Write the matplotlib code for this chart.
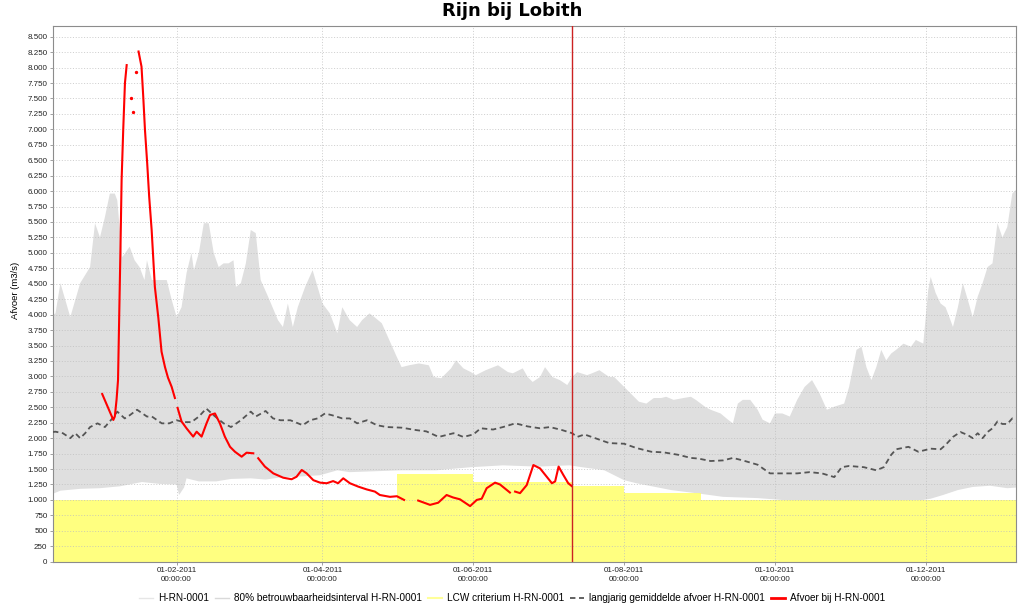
import matplotlib
matplotlib.use("Agg")
import matplotlib.pyplot as plt
import matplotlib.dates as mdates
from matplotlib.ticker import FuncFormatter, MultipleLocator
from matplotlib.lines import Line2D
import numpy as np
import pandas as pd

plt.rcParams['font.family'] = ['Liberation Sans', 'DejaVu Sans']

# ---------------- data (days counted from 1 Jan 2011) ----------------
x_start_day = -19
x_end_day = 370.5
forecast_day = 191  # 11-07-2011

band_upper_days = [-19, -18, -16, -12, -8, -4, -2, 0, 2, 4, 6, 7, 9, 12, 14, 16, 18, 19, 21, 24, 27, 29,
                   31, 33, 35, 37, 38, 40, 42, 44, 46, 48, 50, 52, 54, 55, 57, 59, 61, 63, 65, 68, 72, 74,
                   76, 78, 80, 83, 86, 88, 90, 93, 96, 98, 101, 104, 106, 109, 111, 114, 117, 120, 122, 125,
                   129, 133, 135, 138, 142, 144, 147, 150, 152, 156, 161, 165, 167, 171, 173, 175, 178, 180,
                   183, 186, 189, 191, 193, 197, 199, 202, 206, 208, 212, 216, 218, 221, 224, 227, 229, 232,
                   236, 239, 241, 245, 247, 251, 254, 256, 258, 260, 263, 266, 268, 271, 273, 276, 279, 282,
                   285, 288, 291, 294, 297, 301, 303, 306, 308, 310, 312, 314, 316, 318, 320, 322, 325, 328,
                   330, 333, 335, 336, 338, 340, 342, 344, 345, 347, 349, 351, 353, 355, 357, 359, 361, 363,
                   365, 367, 369, 370.5]
band_upper_values = [4000, 4020, 4510, 3960, 4510, 4770, 5480, 5250, 5580, 5960, 5960, 5850, 4930, 5100, 4880,
                     4770, 4560, 4880, 4560, 4560, 4560, 4240, 3960, 4120, 4670, 5000, 4720, 5000, 5480, 5480,
                     5000, 4770, 4830, 4830, 4880, 4450, 4510, 4830, 5370, 5320, 4560, 4290, 3910, 3800, 4180,
                     3800, 4120, 4450, 4720, 4450, 4180, 4020, 3700, 4120, 3910, 3800, 3910, 4020, 3960, 3860,
                     3590, 3320, 3150, 3180, 3210, 3180, 2990, 2970, 3130, 3260, 3130, 3070, 3020, 3100, 3180,
                     3070, 3050, 3130, 2990, 2910, 2990, 3150, 2990, 2940, 2860, 2990, 3070, 3020, 3050, 3100,
                     2990, 2990, 2830, 2670, 2590, 2560, 2650, 2650, 2670, 2620, 2650, 2670, 2620, 2500, 2460,
                     2400, 2300, 2240, 2560, 2620, 2620, 2460, 2300, 2240, 2400, 2400, 2350, 2620, 2830, 2940,
                     2730, 2460, 2510, 2560, 2830, 3430, 3480, 3150, 2940, 3150, 3430, 3260, 3370, 3430, 3530,
                     3480, 3590, 3530, 4400, 4610, 4350, 4180, 4120, 3910, 3800, 4120, 4510, 4240, 3960, 4290,
                     4510, 4770, 4830, 5480, 5250, 5420, 5960, 6020]

band_lower_days = [-19, -16, -8, 0, 8, 17, 24, 31, 32, 34, 35, 40, 47, 53, 61, 67, 74, 81, 89, 96, 101, 108,
                   115, 122, 136, 150, 163, 177, 190, 195, 204, 212, 217, 231, 241, 252, 266, 279, 303, 324,
                   333, 336, 341, 347, 353, 360, 367, 370.5]
band_lower_values = [1100, 1150, 1180, 1190, 1220, 1290, 1260, 1250, 1080, 1200, 1350, 1300, 1300, 1340, 1350,
                     1330, 1370, 1380, 1400, 1480, 1450, 1460, 1470, 1480, 1480, 1530, 1560, 1540, 1560, 1530,
                     1480, 1320, 1270, 1160, 1110, 1050, 1030, 990, 980, 990, 1000, 1020, 1080, 1160, 1210,
                     1230, 1190, 1200]

lcw_days = [-19, 120, 151, 191, 212, 243, 370.5]
lcw_values = [1000, 1415, 1295, 1230, 1115, 1000, 1000]

mean_days = [-19, -18, -15, -12, -10, -8, -6, -4, -1, 2, 5, 7, 10, 12, 15, 19, 21, 25, 28, 31, 34, 37, 40,
             43, 46, 50, 53, 57, 61, 63, 67, 70, 73, 77, 82, 85, 88, 91, 94, 98, 101, 104, 108, 112, 116,
             122, 128, 132, 137, 143, 147, 151, 154, 159, 163, 168, 173, 178, 182, 187, 191, 193, 196, 201,
             206, 212, 217, 223, 228, 234, 239, 242, 247, 252, 256, 260, 266, 271, 276, 282, 287, 292, 297,
             300, 303, 309, 314, 317, 320, 322, 327, 331, 336, 340, 342, 345, 348, 351, 353, 355, 357, 359,
             361, 363, 365, 367, 369, 370.5]
mean_values = [2100, 2105, 2080, 2000, 2080, 2000, 2080, 2180, 2240, 2180, 2320, 2430, 2320, 2370, 2460, 2350,
               2350, 2240, 2240, 2290, 2260, 2260, 2350, 2480, 2370, 2240, 2180, 2290, 2430, 2350, 2440, 2320,
               2290, 2290, 2210, 2290, 2320, 2400, 2370, 2320, 2320, 2240, 2290, 2210, 2180, 2170, 2130, 2110,
               2020, 2080, 2020, 2060, 2160, 2140, 2180, 2240, 2190, 2160, 2180, 2130, 2080, 2020, 2060, 1990,
               1920, 1910, 1840, 1780, 1770, 1730, 1680, 1670, 1630, 1640, 1680, 1640, 1570, 1430, 1430, 1430,
               1450, 1430, 1370, 1530, 1550, 1530, 1480, 1530, 1730, 1820, 1860, 1780, 1830, 1820, 1890, 2020,
               2100, 2050, 2000, 2080, 2000, 2100, 2160, 2270, 2230, 2230, 2320, 2300]

nan = float('nan')
afvoer_days = [0.9, 3.2, 5.4, 6.0, 6.7, 7.3, 7.8, 8.3, 8.75, 9.4, 10.1, 10.8, 11.0,
               15.5, 15.6, 16.8, 17.5, 18.2, 19.1, 19.9, 20.9, 22.2, 23.6, 24.9, 26.3, 27.5, 29.0, 30.3, 30.8,
               31.4, 33.0, 35.0, 37.7, 39.1, 41.1, 43.1, 44.5, 46.5, 48.5, 50.5, 52.6, 54.6, 57.3, 59.3, 62.0,
               63.0, 64.0, 66.7, 70.1, 74.1, 77.5, 79.5, 81.6, 83.6, 86.3, 89.0, 91.7, 94.3, 96.3, 98.4, 101.1,
               104.5, 107.9, 111.2, 113.2, 117.3, 120.1, 123.0, 125.0,
               128.7, 133.5, 136.8, 140.2, 142.8, 145.6, 149.7, 152.4, 154.4, 156.4, 159.8, 161.8, 165.8, 166.8,
               167.9, 169.9, 172.6, 175.3, 178.0, 180.7, 182.8, 184.1, 185.5, 187.4, 189.4, 190.8]
afvoer_values = [2715, 2500, 2295, 2350, 2620, 2940, 4020, 5100, 6180, 6990, 7750, 8040, nan,
                 nan, 8260, 8015, 7530, 6990, 6450, 5910, 5370, 4450, 3950, 3400, 3150, 2980, 2830, 2650, nan,
                 2490, 2270, 2160, 2025, 2105, 2025, 2240, 2375, 2400, 2240, 2025, 1860, 1780, 1700, 1765, 1755,
                 nan, 1675, 1540, 1430, 1360, 1335, 1375, 1485, 1430, 1320, 1280, 1270, 1305, 1270, 1350, 1270,
                 1215, 1170, 1135, 1080, 1050, 1060, 1000, nan,
                 990, 920, 955, 1080, 1040, 1010, 900, 1000, 1020, 1190, 1280, 1250, 1120, nan,
                 1135, 1110, 1240, 1565, 1510, 1375, 1270, 1300, 1540, 1405, 1270, 1225]

afvoer_los_days = [12.4, 13.2, 14.7]
afvoer_los_values = [7510, 7285, 7930]

legend_labels = ['H-RN-0001', '80% betrouwbaarheidsinterval H-RN-0001', 'LCW criterium H-RN-0001',
                 'langjarig gemiddelde afvoer H-RN-0001', 'Afvoer bij H-RN-0001']

# ---------------- helpers ----------------
BASE = pd.Timestamp('2011-01-01')


def to_num(days):
    return mdates.date2num(BASE + pd.to_timedelta(np.asarray(days, dtype=float), unit='D'))


fig = plt.figure(figsize=(10.24, 6.12), dpi=100)
ax = fig.add_axes([53 / 1024, 1 - 561.7 / 612, (1016 - 53) / 1024, (561.7 - 26) / 612])

GRAY = '#dfdfdf'
YELLOW = (1.0, 1.0, 106 / 255)

# confidence band polygon
bx = np.concatenate([to_num(band_upper_days), to_num(band_lower_days)[::-1]])
by = np.concatenate([np.asarray(band_upper_values, float), np.asarray(band_lower_values, float)[::-1]])
ax.fill(bx, by, color=GRAY, lw=0, zorder=1)

# LCW criterium
ax.fill_between(to_num(lcw_days), 0, lcw_values, step='post', color=YELLOW, alpha=0.85, lw=0, zorder=1.5)

# mean
ax.plot(to_num(mean_days), mean_values, color='#555555', lw=1.3, ls=(0, (3, 2)), zorder=3)

# afvoer
ax.plot(to_num(afvoer_days), afvoer_values, color='#ff0000', lw=1.5, zorder=4)
ax.plot(to_num(afvoer_los_days), afvoer_los_values, color='#ff0000', lw=0, marker='o', ms=1.4, zorder=4)

# forecast time
ax.axvline(to_num([forecast_day])[0], color='#cc2222', lw=1.0, zorder=5)

ax.set_xlim(to_num([x_start_day])[0], to_num([x_end_day])[0])
ax.set_ylim(0, 8673)

ax.yaxis.set_major_locator(MultipleLocator(250))
ax.yaxis.set_major_formatter(FuncFormatter(lambda v, p: f"{int(round(v)):,}".replace(',', '.')))
ax.xaxis.set_major_locator(mdates.MonthLocator(bymonth=[2, 4, 6, 8, 10, 12]))
ax.xaxis.set_major_formatter(mdates.DateFormatter('%d-%m-%Y\n%H:%M:%S'))

ax.set_axisbelow(False)
ax.grid(True, color='#bdbdbd', lw=0.5, ls=(0, (1.5, 2.5)), zorder=2.5)
ax.tick_params(axis='both', labelsize=5.8, length=2, width=0.6, color='#909090', pad=2, labelcolor='#222222')
for s in ax.spines.values():
    s.set_color('#8c8c8c')
    s.set_linewidth(0.8)
for lab in ax.get_xticklabels():
    lab.set_horizontalalignment('center')
    lab.set_linespacing(1.3)

fig.text(0.5, 1 - 11 / 612, 'Rijn bij Lobith', ha='center', va='center', fontsize=13, weight='bold',
         family='DejaVu Sans')
fig.text(15 / 1024, 1 - 290 / 612, 'Afvoer (m3/s)', rotation=90, ha='center', va='center', fontsize=6.8)

handles = [Line2D([], [], color='#e6e6e6', lw=1),
           Line2D([], [], color='#d9d9d9', lw=1),
           Line2D([], [], color='#ffff99', lw=1.5),
           Line2D([], [], color='#555555', lw=1.3, ls=(0, (3, 2))),
           Line2D([], [], color='#ff0000', lw=2)]
fig.legend(handles, legend_labels, loc='center', bbox_to_anchor=(0.5, 1 - 598 / 612), ncol=5, frameon=False,
           fontsize=7.2, handlelength=1.4, handletextpad=0.5, columnspacing=0.6)

fig.savefig('out.png', dpi=100)
